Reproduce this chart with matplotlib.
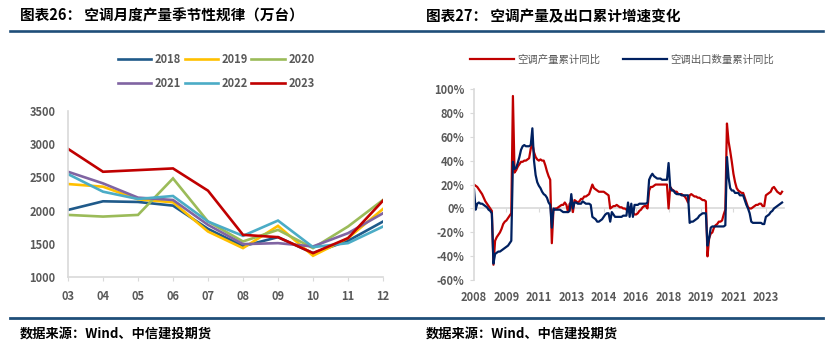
import matplotlib
matplotlib.use('Agg')
import matplotlib.pyplot as plt
from matplotlib.lines import Line2D
import pandas as pd

plt.rcParams['font.family'] = ['Noto Sans CJK SC', 'DejaVu Sans']

# 左图：空调月度产量（万台）
months = ['03', '04', '05', '06', '07', '08', '09', '10', '11', '12']
y2018 = [2010, 2140, 2130, 2075, 1725, 1465, 1600, 1360, 1545, 1835]
y2019 = [2400, 2360, 2170, 2125, 1685, 1435, 1770, 1320, 1585, 2025]
y2020 = [1935, 1910, 1935, 2485, 1835, 1535, 1710, 1435, 1760, 2160]
y2021 = [2585, 2410, 2195, 2160, 1785, 1495, 1510, 1460, 1660, 1960]
y2022 = [2550, 2285, 2175, 2220, 1835, 1620, 1850, 1450, 1510, 1760]
y2023 = [2930, 2585, 2610, 2635, 2300, 1635, 1600, 1360, 1585, 2150]
anos = ['2018', '2019', '2020', '2021', '2022', '2023']
cores = ['#1F5A8A', '#FFC000', '#9BBB59', '#8064A2', '#4BACC6', '#C00000']

# 右图：累计同比（%），月度，2008-02 起
inicio = '2008-02'
prod_yoy = [
    20, 19, 18, 16, 14, 12, 9, 6, 4, 2, 0, -2,
    -47, -27, -24, -22, -20, -17, -13, -11, -10, -8, -6, -4,
    94, 30, 32, 35, 37, 39, 39, 40, 40, 41, 42, 50,
    54, 47, 43, 41, 40, 41, 40, 40, 36, 31, 27, 24,
    -29, -1, 0, 0, 1, 2, 3, 3, 5, 3, -3, 4,
    5, -3, 7, 6, 5, 6, 8, 8, 10, 10, 11, 12,
    16, 20, 17, 16, 15, 14, 14, 14, 14, 13, 12, 11,
    0, 1, 2, 2, 3, 2, 1, 1, 0, 0, -1, 0,
    1, 0, -3, -5, -5, -4, -2, -1, 1, 2, 2, 0,
    15, 18, 18, 19, 20, 20, 20, 20, 20, 20, 20, 20,
    0, 18, 16, 15, 14, 14, 12, 12, 12, 11, 10, 8,
    5, 11, 12, 11, 10, 10, 9, 9, 8, 7, 7, 6,
    -40, -25, -21, -20, -16, -14, -13, -11, -11, -10, -5, -1,
    71, 56, 48, 39, 29, 22, 17, 15, 14, 13, 13, 9,
    5, 1, 0, 0, 1, 2, 3, 3, 4, 4, 2, 2,
    11, 12, 13, 14, 17, 18, 16, 14, 13, 12, 14,
]
exp_yoy = [
    16, -1, 4, 5, 4, 4, 3, 2, 1, -1, -2, -4,
    -46, -38, -37, -36, -36, -35, -34, -33, -32, -31, -29, -27,
    39, 33, 34, 38, 43, 49, 52, 53, 52, 52, 52, 53,
    67, 40, 28, 22, 19, 17, 14, 12, 11, 9, 5, 3,
    -16, 0, -1, -1, -1, -1, -2, -3, -3, -3, -3, -2,
    12, 0, 5, 5, 4, 4, 4, 6, 5, 4, 4, 4,
    3, -7, -8, -9, -11, -11, -10, -9, -7, -5, -4, -4,
    -11, -3, -5, -7, -7, -7, -7, -7, -6, -6, -6, 5,
    -7, 4, -7, 3, 3, 3, 4, 4, 4, 4, 4, 5,
    24, 27, 29, 27, 26, 25, 25, 25, 24, 24, 24, 24,
    38, 18, 15, 15, 13, 12, 12, 12, 11, 11, 11, 11,
    11, -12, -11, -11, -10, -9, -8, -6, -5, -4, -4, -4,
    -31, -25, -16, -15, -15, -15, -15, -15, -15, -15, -15, -14,
    43, 26, 17, 15, 15, 13, 13, 13, 11, 11, 11, 7,
    3, 0, -4, -11, -12, -12, -12, -12, -12, -12, -13, -13,
    -7, -6, -5, -3, -2, 0, 1, 2, 3, 4, 5,
]
datas = pd.period_range(inicio, periods=len(prod_yoy), freq='M')

cinza = '#595959'
linha_cor = '#D9D9D9'
azul_barra = '#1F4E79'

fig = plt.figure(figsize=(8.34, 3.55), dpi=100)

# 标题、分隔线、来源
fig.text(20 / 834, 1 - 16 / 355, '图表26： 空调月度产量季节性规律（万台）', fontsize=10.5,
         fontweight='bold', va='center', ha='left')
fig.text(426 / 834, 1 - 16 / 355, '图表27： 空调产量及出口累计增速变化', fontsize=10.5,
         fontweight='bold', va='center', ha='left')
fig.add_artist(Line2D([10 / 834, 823 / 834], [1 - 30.5 / 355] * 2, lw=1.9, color=azul_barra))
fig.add_artist(Line2D([10 / 834, 823 / 834], [1 - 318 / 355] * 2, lw=2.0, color=azul_barra))
for x0 in (20, 426):
    fig.text(x0 / 834, 1 - 334 / 355, '数据来源：Wind、中信建投期货', fontsize=9.5,
             fontweight='bold', fontstyle='italic', va='center', ha='left')

# 左图
ax1 = fig.add_axes([68 / 834, 1 - 277 / 355, 315 / 834, 166 / 355])
xs = list(range(len(months)))
for ano, serie, cor in zip(anos, [y2018, y2019, y2020, y2021, y2022, y2023], cores):
    ax1.plot(xs, serie, color=cor, lw=1.9, label=ano, solid_joinstyle='miter')
ax1.set_xlim(0, len(months) - 1)
ax1.set_ylim(1000, 3500)
ax1.set_yticks(range(1000, 3501, 500))
ax1.set_xticks(xs)
ax1.set_xticklabels(months)
for s in ['top', 'right']:
    ax1.spines[s].set_visible(False)
for s in ['left', 'bottom']:
    ax1.spines[s].set_color(linha_cor)
    ax1.spines[s].set_linewidth(1.2)
ax1.tick_params(axis='y', length=0, pad=9, labelsize=8, labelcolor=cinza)
ax1.tick_params(axis='x', length=3, color=linha_cor, pad=6, labelsize=8, labelcolor=cinza)
for t in ax1.get_xticklabels() + ax1.get_yticklabels():
    t.set_fontweight('bold')

# legenda em linhas: 2018 2019 2020 / 2021 2022 2023
h, l = ax1.get_legend_handles_labels()
ordem = [0, 3, 1, 4, 2, 5]
fig.legend([h[i] for i in ordem], [l[i] for i in ordem], ncol=3, loc='center',
           bbox_to_anchor=(216 / 834, 1 - 71.5 / 355), frameon=False,
           prop={'size': 8, 'weight': 'bold'}, labelcolor=cinza,
           handlelength=3.0, handletextpad=0.3, columnspacing=0.35, labelspacing=0.95)

# 右图
ax2 = fig.add_axes([474 / 834, 1 - 280.3 / 355, 309.7 / 834, 191.5 / 355])
xi = list(range(len(prod_yoy)))
ax2.plot(xi, prod_yoy, color='#C00000', lw=1.6, label='空调产量累计同比')
ax2.plot(xi, exp_yoy, color='#002060', lw=1.6, label='空调出口数量累计同比')
ax2.set_xlim(0, len(prod_yoy))
ax2.set_ylim(-60, 100)
ax2.set_yticks(range(-60, 101, 20))
ax2.set_yticklabels([f'{v}%' for v in range(-60, 101, 20)])
pos = list(range(0, len(prod_yoy), 20))
ax2.set_xticks(pos)
ax2.set_xticklabels([str(datas[p].year) for p in pos])
for s in ['top', 'right', 'bottom']:
    ax2.spines[s].set_visible(False)
ax2.spines['left'].set_color(linha_cor)
ax2.spines['left'].set_linewidth(1.2)
ax2.tick_params(axis='y', length=3, color=linha_cor, pad=4, labelsize=8, labelcolor=cinza)
ax2.tick_params(axis='x', length=0, pad=8, labelsize=8, labelcolor=cinza)
for t in ax2.get_xticklabels() + ax2.get_yticklabels():
    t.set_fontweight('bold')
eixo0 = ax2.secondary_xaxis(60 / 160)
eixo0.set_xticks(pos)
eixo0.set_xticklabels([])
eixo0.spines['bottom'].set_color(linha_cor)
eixo0.spines['bottom'].set_linewidth(1.2)
eixo0.tick_params(axis='x', length=3, color=linha_cor)
ax2.legend(ncol=2, loc='center', bbox_to_anchor=(622 / 834, 1 - 60 / 355),
           bbox_transform=fig.transFigure, frameon=False, prop={'size': 7.5},
           labelcolor=cinza, handlelength=4.2, handletextpad=0.35, columnspacing=2.2)

fig.savefig('out.png', dpi=100)
